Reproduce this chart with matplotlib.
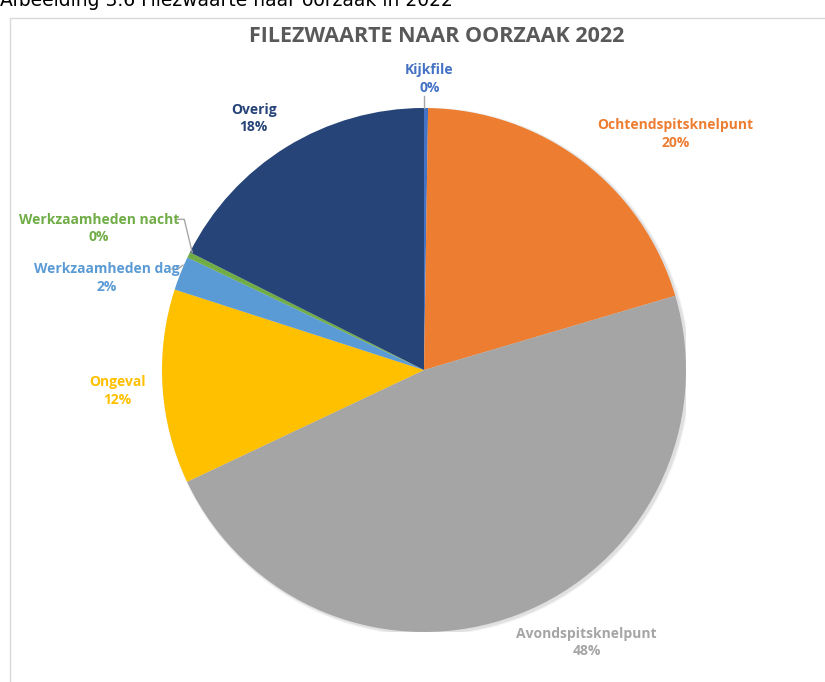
import numpy as np
import matplotlib
matplotlib.use('Agg')
import matplotlib.pyplot as plt
from matplotlib.patches import Circle

# Data (share of congestion severity, %)
causes = ['Kijkfile', 'Ochtendspitsknelpunt', 'Avondspitsknelpunt', 'Ongeval',
          'Werkzaamheden dag', 'Werkzaamheden nacht', 'Overig']
shares = [0.25, 20.2, 47.6, 12.0, 2.1, 0.35, 17.6]
colors = ['#4472C4', '#ED7D31', '#A5A5A5', '#FFC000', '#5B9BD5', '#70AD47', '#264478']

# label anchor positions in pie units (radius = 1)
label_pos = [(0.02, 1.11), (0.96, 0.90), (0.62, -1.04), (-1.17, -0.08),
             (-1.21, 0.35), (-1.24, 0.54), (-0.65, 0.96)]

W, H = 825, 682
fig = plt.figure(figsize=(W / 100, H / 100), dpi=100)

# outer frame and caption above it
frame = fig.add_axes([0, 0, 1, 1])
frame.set_xlim(0, W)
frame.set_ylim(H, 0)
frame.axis('off')
frame.plot([10, 10, W + 5], [H + 5, 18, 18], color='#D9D9D9', lw=1)
fig.text(0, 1 - 6 / H, 'Afbeelding 3.6 Filezwaarte naar oorzaak in 2022',
         fontsize=13.5, family='DejaVu Sans', va='baseline', ha='left', color='black')

fig.text(437 / W, 1 - 36 / H, 'FILEZWAARTE NAAR OORZAAK 2022', ha='center', va='center',
         fontsize=15.5, fontweight='bold', color='#595959', family='Open Sans')

cx, cy, r = 424, 370, 262
ax = fig.add_axes([(cx - r) / W, (H - cy - r) / H, 2 * r / W, 2 * r / H])
ax.set_xlim(-1, 1)
ax.set_ylim(-1, 1)
ax.axis('off')

# soft shadow
for i, a in enumerate([0.03, 0.04, 0.05]):
    ax.add_patch(Circle((0.008, -0.006), 1.0 + 0.003 * (3 - i),
                        color='black', alpha=a, lw=0, zorder=0))

wedges, _ = ax.pie(shares, colors=colors, startangle=90, counterclock=False,
                   radius=1, wedgeprops=dict(linewidth=0), frame=False)
ax.set_xlim(-1, 1)
ax.set_ylim(-1, 1)

total = sum(shares)
for name, val, col, (lx, ly) in zip(causes, shares, colors, label_pos):
    ax.text(lx, ly, f'{name}\n{round(val / total * 100):.0f}%', ha='center', va='center',
            color=col, fontsize=10, fontweight='bold', family='Open Sans',
            linespacing=1.35, clip_on=False)

# leader lines
lc = '#A6A6A6'
ax.plot([0.0, 0.0], [1.0, 1.045], color=lc, lw=1, clip_on=False)
ax.plot([-0.962, -0.94, -0.92], [0.385, 0.385, 0.40], color=lc, lw=1, clip_on=False)
ax.plot([-0.945, -0.915, -0.885], [0.575, 0.575, 0.45], color=lc, lw=1, clip_on=False)

fig.savefig('out.png', dpi=100)
